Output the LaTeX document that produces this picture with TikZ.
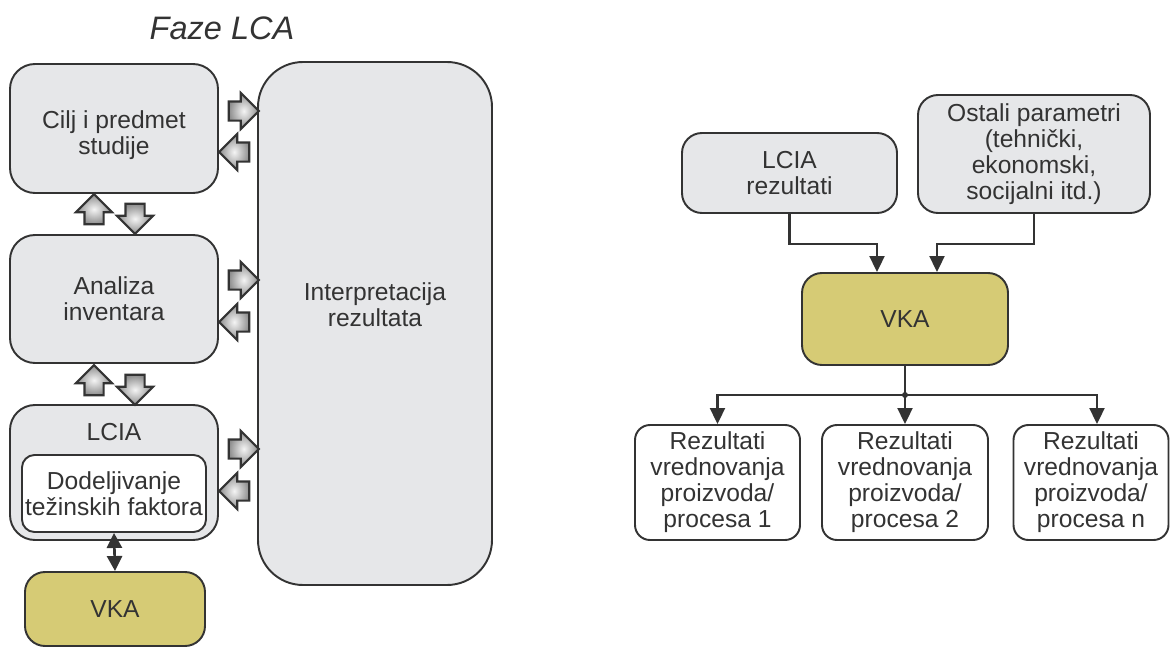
\documentclass[tikz,border=0pt]{standalone}
\usepackage{fontspec}
\setmainfont{Liberation Sans}
\usetikzlibrary{shapes.arrows,arrows.meta}
\definecolor{boxgray}{RGB}{230,231,233}
\definecolor{linegray}{RGB}{51,51,51}
\definecolor{vkaolive}{RGB}{214,203,117}
\begin{document}
\begin{tikzpicture}[
        thick,
        font=\fontsize{14}{14.8}\selectfont,
        text=linegray
    ]
    \tikzset{
        phase/.style = {rectangle, rounded corners=0.5cm, draw=linegray, line width=1.1pt, fill=boxgray, align=center, inner sep=0pt},
        vkabox/.style = {phase, fill=vkaolive, rounded corners=0.4cm},
        inbox/.style = {phase, fill=boxgray, rounded corners=0.4cm},
        resbox/.style = {phase, fill=white, rounded corners=0.3cm},
        blockarr/.style = {single arrow, draw=linegray, line width=1.2pt, inner sep=0.17cm, single arrow head extend=0.17cm, minimum height=0.6cm, shading=radial, inner color=white!92!gray, outer color=gray!90},
        flow/.style = {draw=linegray, line width=1.2pt, -{Triangle[length=0.32cm,width=0.3cm]}},
    }
    \useasboundingbox (0,0) rectangle (23.4,-12.96);
    % left: phases
    \node[font=\fontsize{18.5}{22}\selectfont\itshape] at (4.44,-0.56) (title) {Faze LCA};
    \node[phase, minimum width=4.16cm, minimum height=2.58cm] at (2.28,-2.57) (cilj) {};
    \node[align=center] at (2.28,-2.70) (ciljtxt) {Cilj i predmet\\studije};
    \node[phase, minimum width=4.16cm, minimum height=2.56cm] at (2.28,-5.98) (analiza) {Analiza\\inventara};
    \node[phase, minimum width=4.16cm, minimum height=2.70cm] at (2.28,-9.45) (lcia) {};
    \node at (2.28,-8.64) (lciatitle) {LCIA};
    \node[phase, fill=white, rounded corners=0.25cm, minimum width=3.68cm, minimum height=1.54cm] at (2.28,-9.87) (tezina) {Dodeljivanje\\težinskih faktora};
    \node[vkabox, minimum width=3.60cm, minimum height=1.48cm] at (2.30,-12.18) (vkaleft) {VKA};
    \node[phase, rounded corners=0.9cm, minimum width=4.68cm, minimum height=10.46cm] at (7.50,-6.47) (interp) {};
    \node[align=center] at (7.50,-6.10) (interptxt) {Interpretacija\\rezultata};
    % block arrows
    \node[blockarr] at (4.78,-2.22) (rA) {};
    \node[blockarr, shape border rotate=180] at (4.78,-3.04) (lA) {};
    \node[blockarr] at (4.78,-5.60) (rB) {};
    \node[blockarr, shape border rotate=180] at (4.78,-6.44) (lB) {};
    \node[blockarr] at (4.78,-8.98) (rC) {};
    \node[blockarr, shape border rotate=180] at (4.78,-9.82) (lC) {};
    \node[blockarr, shape border rotate=90] at (1.88,-4.28) (uA) {};
    \node[blockarr, shape border rotate=270] at (2.70,-4.28) (dA) {};
    \node[blockarr, shape border rotate=90] at (1.88,-7.70) (uB) {};
    \node[blockarr, shape border rotate=270] at (2.70,-7.70) (dB) {};
    \draw[draw=linegray, line width=1.5pt, {Triangle[length=0.3cm,width=0.3cm]}-{Triangle[length=0.3cm,width=0.3cm]}] (tezina.south) -- (vkaleft.north);
    % right: VKA scheme
    \node[inbox, minimum width=4.30cm, minimum height=1.60cm] at (15.79,-3.46) (lciar) {LCIA\\rezultati};
    \node[inbox, minimum width=4.64cm, minimum height=2.36cm] at (20.68,-3.08) (ostali) {Ostali parametri\\(tehnički,\\ekonomski,\\socijalni itd.)};
    \node[vkabox, minimum width=4.12cm, minimum height=1.84cm] at (18.10,-6.38) (vka) {VKA};
    \node[resbox, minimum width=3.30cm, minimum height=2.30cm] at (14.35,-9.65) (rez1) {Rezultati\\vrednovanja\\proizvoda/\\procesa 1};
    \node[resbox, minimum width=3.32cm, minimum height=2.30cm] at (18.10,-9.65) (rez2) {Rezultati\\vrednovanja\\proizvoda/\\procesa 2};
    \node[resbox, minimum width=3.10cm, minimum height=2.30cm] at (21.82,-9.65) (rez3) {Rezultati\\vrednovanja\\proizvoda/\\procesa n};
    \coordinate (jn) at (18.10,-7.90);
    \draw[flow] (lciar.south) -- ++(0,-0.6) -| ([xshift=-0.56cm]vka.north);
    \draw[flow] (ostali.south) -- ++(0,-0.6) -| ([xshift=0.64cm]vka.north);
    \draw[draw=linegray, line width=1.2pt] (vka.south) -- (jn);
    \draw[flow] (jn) -| (rez1.north);
    \draw[flow] (jn) -- (rez2.north);
    \draw[flow] (jn) -| ([xshift=0.12cm]rez3.north);
    \fill[linegray] (jn) circle (0.06);
\end{tikzpicture}
\end{document}
